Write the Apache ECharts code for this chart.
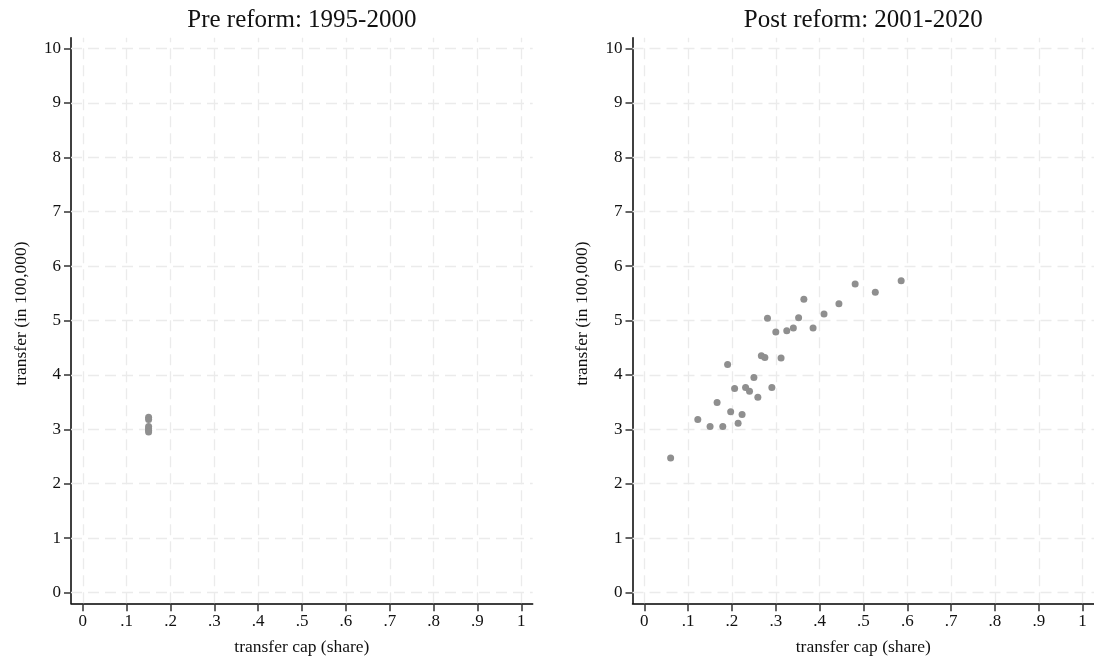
<!DOCTYPE html>
<html>
<head>
<meta charset="utf-8">
<script src="https://cdn.jsdelivr.net/npm/echarts@6/dist/echarts.min.js"></script>
<style>
html,body{margin:0;padding:0;background:#fff;}
#chart{width:1094px;height:658px;}
</style>
</head>
<body>
<div id="chart"></div>
<script>
// ---- data ----
var titles = ['Pre reform: 1995-2000', 'Post reform: 2001-2020'];
var xAxisTitle = 'transfer cap (share)';
var yAxisTitle = 'transfer (in 100,000)';
var xTicks = [0, 0.1, 0.2, 0.3, 0.4, 0.5, 0.6, 0.7, 0.8, 0.9, 1];
var xTickLabels = ['0', '.1', '.2', '.3', '.4', '.5', '.6', '.7', '.8', '.9', '1'];
var yTicks = [0, 1, 2, 3, 4, 5, 6, 7, 8, 9, 10];

var preX = [0.15, 0.15, 0.15, 0.15, 0.15, 0.15];
var preY = [3.22, 3.18, 3.05, 3.01, 2.98, 2.95];

var postX = [0.060, 0.122, 0.150, 0.179, 0.166, 0.197, 0.214, 0.223, 0.190, 0.206,
             0.231, 0.240, 0.250, 0.259, 0.267, 0.275, 0.291, 0.312, 0.281, 0.300,
             0.325, 0.340, 0.352, 0.364, 0.385, 0.410, 0.444, 0.481, 0.527, 0.586];
var postY = [2.47, 3.18, 3.05, 3.05, 3.49, 3.32, 3.11, 3.27, 4.19, 3.75,
             3.77, 3.70, 3.95, 3.59, 4.35, 4.32, 3.77, 4.31, 5.04, 4.79,
             4.81, 4.86, 5.05, 5.39, 4.86, 5.12, 5.31, 5.67, 5.52, 5.73];

// ---- build ----
var FONT = 'Liberation Serif';
function zip(a, b) { return a.map(function (v, i) { return [v, b[i]]; }); }
function xFmt(v) {
  for (var i = 0; i < xTicks.length; i++) if (Math.abs(xTicks[i] - v) < 1e-9) return xTickLabels[i];
  return '';
}
var gridMarks = xTicks.map(function (v) { return { xAxis: v }; })
  .concat(yTicks.map(function (v) { return { yAxis: v }; }));

var grids = [
  { left: 71, top: 37.7, width: 461.7, height: 565.6, outerBoundsMode: 'none', containLabel: false },
  { left: 632.5, top: 37.7, width: 461.5, height: 565.6, outerBoundsMode: 'none', containLabel: false }
];
var centers = [71 + 461.7 / 2 - 5, 632.5 + 461.5 / 2 - 5];
var datasets = [zip(preX, preY), zip(postX, postY)];

var option = {
  backgroundColor: '#ffffff',
  animation: false,
  title: titles.map(function (t, i) {
    return {
      text: t, left: centers[i], top: 3, textAlign: 'center',
      textStyle: { fontFamily: FONT, fontSize: 25, fontWeight: 'normal', color: '#111' }
    };
  }),
  grid: grids,
  xAxis: grids.map(function (g, i) {
    return {
      type: 'value', gridIndex: i, min: -0.027, max: 1.026,
      name: xAxisTitle, nameLocation: 'middle', nameGap: 35,
      nameTextStyle: { fontFamily: FONT, fontSize: 17.5, color: '#111' },
      axisLine: { show: true, onZero: false, lineStyle: { color: '#000', width: 1.5 } },
      axisTick: { show: true, length: 8, customValues: xTicks, lineStyle: { color: '#333', width: 1.5 } },
      axisLabel: { show: true, customValues: xTicks, formatter: xFmt, margin: 10,
        fontFamily: FONT, fontSize: 17, color: '#111' },
      splitLine: { show: false }
    };
  }),
  yAxis: grids.map(function (g, i) {
    return {
      type: 'value', gridIndex: i, min: -0.2, max: 10.2,
      name: yAxisTitle, nameLocation: 'middle', nameGap: 41,
      nameTextStyle: { fontFamily: FONT, fontSize: 17.5, color: '#111', padding: [0, 0, 0, 14] },
      axisLine: { show: true, onZero: false, lineStyle: { color: '#000', width: 1.5 } },
      axisTick: { show: true, length: 7, customValues: yTicks, lineStyle: { color: '#333', width: 1.5 } },
      axisLabel: { show: true, customValues: yTicks, margin: 10,
        fontFamily: FONT, fontSize: 17, color: '#111' },
      splitLine: { show: false }
    };
  }),
  series: datasets.map(function (d, i) {
    return {
      type: 'scatter', xAxisIndex: i, yAxisIndex: i, data: d,
      symbol: 'circle', symbolSize: 7,
      itemStyle: { color: '#8f8f8f', opacity: 1 },
      z: 5,
      markLine: {
        silent: true, symbol: 'none', animation: false, z: 1,
        label: { show: false },
        lineStyle: { color: '#ebebeb', width: 1.3, type: [11, 6] },
        emphasis: { disabled: true },
        data: gridMarks
      }
    };
  })
};

var chart = echarts.init(document.getElementById('chart'), null, { renderer: 'canvas' });
chart.setOption(option);
</script>
</body>
</html>
